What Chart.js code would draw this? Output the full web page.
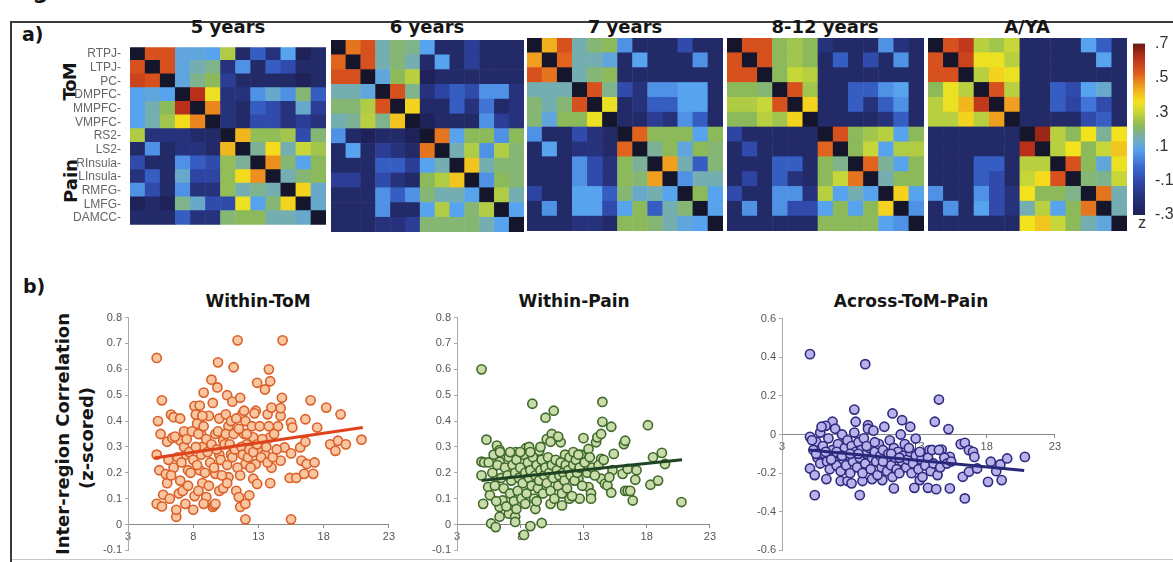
<!DOCTYPE html>
<html>
<head>
<meta charset="utf-8">
<script src="https://cdn.jsdelivr.net/npm/chart.js@4.4.1/dist/chart.umd.min.js"></script>
<style>
  body { margin: 0; width: 1173px; height: 562px; background: #fff; position: relative; overflow: hidden; font-family: 'Liberation Sans', Arial, sans-serif; }
  canvas { position: absolute; }
  .t { position: absolute; white-space: nowrap; color: #151515; font-family: 'DejaVu Sans', sans-serif; font-weight: bold; }
  .hm { position: absolute; font-size: 18px; line-height: 18px; width: 200px; text-align: center; }
  .rot { position: absolute; transform: translate(-50%, -50%) rotate(-90deg); white-space: nowrap; }
  .line { position: absolute; background: #3a3a3a; }
</style>
</head>
<body>
<div class="t" style="left:10px;top:-19px;font-size:22px;line-height:22px">Figure</div>
<div class="line" style="left:10px;top:21px;width:1163px;height:2px"></div>
<div class="line" style="left:10px;top:21px;width:2px;height:541px"></div>
<div class="line" style="left:12px;top:559px;width:1161px;height:1px;background:#c8c8c8"></div>

<div class="t" style="left:22px;top:25px;font-size:19px;line-height:19px">a)</div>
<div class="t" style="left:23px;top:277px;font-size:19px;line-height:19px">b)</div>

<div class="t hm" style="left:128px;top:18px">5 years</div>
<div class="t hm" style="left:327px;top:18px">6 years</div>
<div class="t hm" style="left:525px;top:18px">7 years</div>
<div class="t hm" style="left:725px;top:18px">8-12 years</div>
<div class="t hm" style="left:927px;top:18px">A/YA</div>

<div class="t rot" style="left:69px;top:82px;font-size:18px;letter-spacing:-1px">ToM</div>
<div class="t rot" style="left:70px;top:181px;font-size:18px">Pain</div>

<div class="t" style="left:1138px;top:214px;font-size:16px;font-weight:normal;color:#333;font-family:'Liberation Sans',Arial,sans-serif">z</div>

<div class="t rot" style="left:62px;top:434px;font-size:18px">Inter-region Correlation</div>
<div class="t rot" style="left:86px;top:438px;font-size:18px">(z-scored)</div>

<div class="t" style="left:158px;top:293px;width:200px;text-align:center;font-size:17px;line-height:17px">Within-ToM</div>
<div class="t" style="left:474px;top:293px;width:200px;text-align:center;font-size:17px;line-height:17px">Within-Pain</div>
<div class="t" style="left:811px;top:293px;width:200px;text-align:center;font-size:17px;line-height:17px">Across-ToM-Pain</div>

<canvas id="hm0" width="252" height="194" style="left:74px;top:39px"></canvas>
<canvas id="hm1" width="193" height="192" style="left:331px;top:40px"></canvas>
<canvas id="hm2" width="196" height="193" style="left:527px;top:38px"></canvas>
<canvas id="hm3" width="197" height="193" style="left:727px;top:38px"></canvas>
<canvas id="hm4" width="199" height="193" style="left:928px;top:38px"></canvas>
<canvas id="cbar" width="40" height="200" style="left:1133px;top:32px"></canvas>

<canvas id="sc0" width="310" height="252" style="left:88px;top:308px"></canvas>
<canvas id="sc1" width="302" height="252" style="left:417px;top:308px"></canvas>
<canvas id="sc2" width="322" height="251" style="left:742px;top:309px"></canvas>

<script>
// regions and panels
const regions = ['RTPJ', 'LTPJ', 'PC', 'DMPFC', 'MMPFC', 'VMPFC', 'RS2', 'LS2', 'RInsula', 'LInsula', 'RMFG', 'LMFG', 'DAMCC']
const groupTitles = ['5 years', '6 years', '7 years', '8-12 years', 'A/YA']

// correlation matrices (z), diagonal left empty
const m5 = [
  [null, 0.55, 0.55, 0.10, 0.10, 0.08, 0.27, -0.25, -0.05, -0.20, 0.08, -0.30, -0.25],
  [0.55, null, 0.55, 0.10, 0.15, 0.18, -0.20, 0.05, -0.25, -0.05, -0.10, -0.25, -0.25],
  [0.58, 0.55, null, 0.10, 0.18, 0.22, -0.15, -0.25, -0.25, -0.25, -0.25, -0.30, -0.25],
  [0.08, 0.10, 0.08, null, 0.62, 0.35, -0.20, -0.20, 0.05, 0.12, 0.05, 0.20, -0.05],
  [0.08, 0.15, 0.22, 0.62, null, 0.48, -0.20, -0.25, -0.05, -0.10, -0.20, 0.12, -0.15],
  [0.08, 0.15, 0.25, 0.37, 0.48, null, -0.20, -0.25, -0.10, -0.10, -0.20, -0.15, -0.20],
  [0.27, -0.20, -0.20, -0.20, -0.25, -0.25, null, 0.42, 0.23, 0.23, 0.25, -0.10, 0.20],
  [-0.25, 0.05, -0.25, -0.20, -0.20, -0.25, 0.42, null, 0.17, 0.37, 0.15, 0.30, 0.25],
  [-0.10, -0.25, -0.25, 0.05, -0.05, -0.10, 0.23, 0.17, null, 0.47, 0.20, 0.08, 0.22],
  [-0.20, -0.05, -0.25, 0.12, -0.12, -0.12, 0.23, 0.37, 0.47, null, 0.15, 0.20, 0.22],
  [0.05, -0.10, -0.25, 0.05, -0.20, -0.20, 0.23, 0.15, 0.18, 0.15, null, 0.38, 0.12],
  [-0.30, -0.25, -0.30, 0.18, 0.12, -0.10, -0.10, 0.35, 0.08, 0.20, 0.38, null, 0.12],
  [-0.25, -0.25, -0.25, -0.05, -0.20, -0.20, 0.20, 0.22, 0.22, 0.15, 0.15, 0.12, null],
]
const m6 = [
  [null, 0.50, 0.55, 0.15, 0.20, 0.18, 0.08, -0.25, -0.25, -0.15, -0.25, -0.25, -0.25],
  [0.52, null, 0.55, 0.15, 0.20, 0.15, -0.25, 0.08, -0.25, -0.15, -0.25, -0.25, -0.25],
  [0.55, 0.55, null, 0.10, 0.22, 0.28, -0.30, -0.25, -0.25, -0.25, -0.25, -0.25, -0.25],
  [0.15, 0.15, 0.10, null, 0.55, 0.18, -0.20, -0.12, -0.05, -0.10, 0.05, 0.05, -0.20],
  [0.20, 0.20, 0.27, 0.55, null, 0.38, -0.25, -0.25, -0.05, -0.20, 0.00, -0.25, -0.20],
  [0.15, 0.17, 0.28, 0.18, 0.40, null, -0.30, -0.25, -0.25, -0.25, 0.05, -0.15, -0.20],
  [0.05, -0.25, -0.30, -0.25, -0.25, -0.30, null, 0.50, 0.08, 0.22, 0.22, 0.05, 0.22],
  [-0.25, 0.08, -0.25, -0.15, -0.20, -0.25, 0.50, null, 0.15, 0.27, 0.05, 0.27, 0.20],
  [-0.25, -0.25, -0.25, -0.05, -0.05, -0.15, 0.08, 0.15, null, 0.40, 0.15, 0.20, 0.20],
  [-0.15, -0.15, -0.25, -0.10, -0.20, -0.25, 0.22, 0.27, 0.40, null, 0.05, 0.22, 0.20],
  [-0.25, -0.25, -0.25, 0.05, -0.05, 0.05, 0.20, 0.15, 0.15, 0.08, null, 0.27, 0.15],
  [-0.25, -0.25, -0.25, 0.05, -0.25, -0.25, 0.08, 0.27, 0.08, 0.20, 0.27, null, 0.08],
  [-0.25, -0.25, -0.25, -0.20, -0.20, -0.15, 0.20, 0.20, 0.20, 0.20, 0.15, 0.08, null],
]
const m7 = [
  [null, 0.43, 0.55, 0.15, 0.20, 0.22, 0.05, -0.25, -0.25, -0.25, -0.10, -0.25, -0.25],
  [0.45, null, 0.52, 0.15, 0.15, 0.10, -0.25, 0.08, -0.25, -0.25, -0.25, 0.05, -0.25],
  [0.55, 0.50, null, 0.15, 0.20, 0.22, -0.25, -0.25, -0.25, -0.25, -0.25, -0.25, -0.25],
  [0.15, 0.15, 0.15, null, 0.55, 0.18, -0.10, -0.20, 0.05, 0.05, 0.08, 0.08, -0.25],
  [0.20, 0.15, 0.20, 0.55, null, 0.35, -0.25, -0.20, -0.05, -0.05, 0.08, 0.08, -0.25],
  [0.20, 0.10, 0.22, 0.22, 0.35, null, -0.25, -0.25, -0.15, -0.20, 0.05, -0.05, -0.25],
  [0.05, -0.25, -0.25, -0.10, -0.20, -0.25, null, 0.52, 0.22, 0.22, 0.22, 0.08, 0.22],
  [-0.25, 0.08, -0.25, -0.20, -0.20, -0.25, 0.52, null, 0.17, 0.22, 0.10, 0.22, 0.20],
  [-0.25, -0.25, -0.25, 0.05, -0.10, -0.20, 0.22, 0.17, null, 0.45, 0.15, -0.05, 0.20],
  [-0.25, -0.25, -0.25, 0.05, -0.10, -0.20, 0.22, 0.20, 0.45, null, 0.05, 0.15, 0.15],
  [-0.12, -0.25, -0.25, 0.08, 0.08, -0.05, 0.20, 0.12, 0.15, 0.08, null, 0.22, 0.08],
  [-0.25, 0.05, -0.25, 0.08, 0.08, -0.10, 0.08, 0.22, -0.05, 0.15, 0.20, null, 0.08],
  [-0.25, -0.25, -0.25, -0.20, -0.20, -0.25, 0.22, 0.22, 0.20, 0.15, 0.10, 0.08, null],
]
const m8to12 = [
  [null, 0.55, 0.55, 0.22, 0.25, 0.22, -0.20, -0.25, -0.25, -0.25, 0.05, -0.20, -0.25],
  [0.55, null, 0.55, 0.22, 0.25, 0.22, -0.25, -0.05, -0.25, -0.10, -0.25, 0.05, -0.25],
  [0.55, 0.55, null, 0.22, 0.30, 0.28, -0.25, -0.25, -0.25, -0.25, -0.25, -0.25, -0.25],
  [0.22, 0.22, 0.20, null, 0.55, 0.25, -0.25, -0.25, -0.05, -0.05, 0.05, 0.08, -0.25],
  [0.27, 0.27, 0.30, 0.55, null, 0.38, -0.25, -0.25, -0.05, -0.20, -0.05, 0.05, -0.25],
  [0.22, 0.22, 0.28, 0.25, 0.38, null, -0.25, -0.25, -0.25, -0.25, -0.20, -0.05, -0.25],
  [-0.12, -0.25, -0.25, -0.25, -0.25, -0.25, null, 0.55, 0.22, 0.25, 0.28, 0.08, 0.22],
  [-0.25, -0.10, -0.25, -0.25, -0.25, -0.25, 0.52, null, 0.22, 0.30, 0.08, 0.27, 0.27],
  [-0.25, -0.25, -0.25, -0.05, -0.05, -0.25, 0.22, 0.18, null, 0.52, 0.17, 0.08, 0.22],
  [-0.25, -0.12, -0.25, -0.05, -0.20, -0.25, 0.22, 0.30, 0.50, null, 0.15, 0.22, 0.22],
  [-0.10, -0.25, -0.25, 0.05, 0.05, -0.20, 0.28, 0.08, 0.15, 0.08, null, 0.38, 0.08],
  [-0.25, 0.05, -0.25, 0.05, -0.10, -0.10, 0.08, 0.22, 0.08, 0.22, 0.38, null, 0.05],
  [-0.25, -0.25, -0.25, -0.25, -0.25, -0.25, 0.22, 0.22, 0.22, 0.22, 0.08, 0.05, null],
]
const mAYA = [
  [null, 0.55, 0.60, 0.28, 0.25, 0.30, -0.25, -0.25, -0.25, -0.25, 0.08, -0.05, -0.25],
  [0.55, null, 0.58, 0.35, 0.35, 0.28, -0.25, -0.25, -0.25, -0.25, -0.25, 0.08, -0.25],
  [0.55, 0.55, null, 0.28, 0.38, 0.35, -0.25, -0.25, -0.25, -0.25, -0.25, -0.25, -0.25],
  [0.22, 0.35, 0.28, null, 0.55, 0.28, -0.25, -0.25, -0.05, -0.10, 0.08, 0.12, -0.25],
  [0.28, 0.35, 0.42, 0.60, null, 0.45, -0.25, -0.25, -0.05, -0.12, 0.00, -0.10, -0.25],
  [0.28, 0.28, 0.38, 0.28, 0.45, null, -0.25, -0.25, -0.25, -0.25, -0.10, -0.05, -0.25],
  [-0.25, -0.25, -0.25, -0.25, -0.25, -0.25, null, 0.65, 0.28, 0.22, 0.36, 0.17, 0.36],
  [-0.25, -0.25, -0.25, -0.25, -0.25, -0.25, 0.62, null, 0.28, 0.36, 0.22, 0.30, 0.40],
  [-0.25, -0.25, -0.25, -0.05, -0.05, -0.25, 0.28, 0.28, null, 0.55, 0.22, 0.10, 0.35],
  [-0.25, -0.25, -0.25, -0.05, -0.10, -0.25, 0.30, 0.37, 0.55, null, 0.20, 0.18, 0.30],
  [0.05, -0.25, -0.25, 0.05, -0.10, -0.20, 0.36, 0.22, 0.22, 0.18, null, 0.50, 0.15],
  [-0.25, 0.05, -0.25, 0.08, -0.10, -0.20, 0.15, 0.28, 0.08, 0.22, 0.50, null, 0.15],
  [-0.25, -0.25, -0.25, -0.25, -0.25, -0.25, 0.36, 0.40, 0.30, 0.22, 0.15, 0.10, null],
]
const matrices = [m5, m6, m7, m8to12, mAYA]
const cbTicks = [-0.3, -0.1, 0.1, 0.3, 0.5, 0.7]

// scatter data: [age, z]
const tomPoints = [
  [5.2, 0.644], [5.6, 0.48], [5.3, 0.40], [5.5, 0.35], [5.2, 0.27], [5.4, 0.21], [5.2, 0.08], [5.6, 0.07],
  [5.7, 0.115], [6.0, 0.16], [5.9, 0.195], [6.1, 0.25], [6.0, 0.32], [6.3, 0.425], [6.5, 0.415], [6.4, 0.335],
  [6.2, 0.10], [6.7, 0.03], [6.7, 0.057], [6.9, 0.12], [7.0, 0.17], [7.0, 0.325], [7.3, 0.36], [7.4, 0.27],
  [7.6, 0.21], [7.4, 0.08], [8.0, 0.057], [8.1, 0.458], [8.2, 0.425], [8.5, 0.46], [8.3, 0.39], [8.6, 0.35],
  [8.8, 0.51], [8.7, 0.30], [8.5, 0.21], [8.7, 0.16], [9.0, 0.106], [8.8, 0.08], [9.5, 0.068], [9.6, 0.074],
  [9.4, 0.56], [9.9, 0.627], [9.85, 0.53], [9.5, 0.47], [10.0, 0.41], [9.7, 0.35], [10.0, 0.27], [9.7, 0.196],
  [10.0, 0.13], [10.3, 0.325], [10.6, 0.50], [10.5, 0.426], [10.7, 0.38], [10.9, 0.27], [10.7, 0.183],
  [11.0, 0.475], [11.1, 0.608], [11.4, 0.712], [11.3, 0.13], [11.5, 0.106], [11.6, 0.068], [12.0, 0.02],
  [12.0, 0.08], [11.6, 0.49], [11.75, 0.426], [12.0, 0.40], [11.9, 0.35], [12.1, 0.31], [12.0, 0.234],
  [12.3, 0.113], [12.8, 0.44], [12.9, 0.548], [12.6, 0.337], [13.0, 0.285], [12.8, 0.234], [12.6, 0.177],
  [12.9, 0.157], [13.5, 0.522], [13.8, 0.60], [13.9, 0.554], [13.7, 0.426], [14.0, 0.452], [13.9, 0.337],
  [13.5, 0.272], [14.0, 0.22], [13.9, 0.16], [14.5, 0.38], [14.7, 0.42], [14.8, 0.49], [14.85, 0.712],
  [14.7, 0.45], [14.7, 0.247], [15.0, 0.298], [15.5, 0.394], [15.5, 0.275], [15.4, 0.18], [15.5, 0.02],
  [15.9, 0.18], [15.6, 0.375], [16.2, 0.298], [16.3, 0.247], [16.5, 0.196], [16.6, 0.407], [16.6, 0.32],
  [16.7, 0.234], [17.0, 0.48], [17.2, 0.196], [17.3, 0.24], [17.5, 0.375], [18.2, 0.452], [18.5, 0.31],
  [18.9, 0.285], [19.1, 0.324], [19.3, 0.426], [19.7, 0.31], [20.9, 0.328],
  [6.5, 0.22], [6.8, 0.26], [7.1, 0.24], [7.3, 0.30], [7.5, 0.33], [7.7, 0.28], [7.8, 0.20], [7.9, 0.36],
  [8.0, 0.25], [8.2, 0.30], [8.3, 0.23], [8.4, 0.35], [8.6, 0.27], [8.8, 0.38], [8.9, 0.20], [9.0, 0.33],
  [9.1, 0.28], [9.2, 0.42], [9.3, 0.24], [9.4, 0.31], [9.6, 0.22], [9.8, 0.29], [9.9, 0.36], [10.1, 0.25],
  [10.2, 0.19], [10.4, 0.31], [10.5, 0.35], [10.6, 0.23], [10.8, 0.31], [10.9, 0.40], [11.0, 0.26],
  [11.1, 0.35], [11.2, 0.29], [11.3, 0.41], [11.4, 0.22], [11.5, 0.37], [11.7, 0.30], [11.8, 0.27],
  [11.9, 0.44], [12.1, 0.35], [12.2, 0.26], [12.3, 0.29], [12.5, 0.38], [12.6, 0.28], [12.7, 0.43],
  [12.9, 0.31], [13.1, 0.38], [13.2, 0.26], [13.3, 0.33], [13.6, 0.30], [13.7, 0.24], [13.8, 0.38],
  [14.1, 0.26], [14.2, 0.35], [14.4, 0.29], [7.2, 0.13], [7.6, 0.15], [8.1, 0.11], [8.4, 0.13], [9.2, 0.15],
  [9.7, 0.08], [6.3, 0.19], [6.6, 0.34], [7.0, 0.41], [8.7, 0.42], [10.3, 0.14], [10.6, 0.16], [11.6, 0.19],
  [12.4, 0.22],
]
const painPoints = [
  [4.94, 0.60], [5.33, 0.328], [4.94, 0.243], [5.15, 0.24], [4.94, 0.19], [5.07, 0.08], [5.46, 0.145],
  [5.6, 0.113], [5.7, 0.004], [6.06, -0.01], [6.16, 0.305], [6.37, 0.288], [6.37, 0.243], [6.37, 0.068],
  [6.37, 0.03], [6.6, 0.093], [7.1, 0.042], [7.6, 0.03], [7.6, 0.01], [7.66, 0.28], [8.2, 0.21], [8.3, -0.04],
  [8.8, -0.006], [8.45, 0.295], [8.7, 0.30], [8.96, 0.467], [9.2, 0.06], [9.5, 0.285], [9.7, 0.006],
  [10.0, 0.413], [10.1, 0.33], [10.4, 0.08], [10.5, 0.35], [10.65, 0.44], [11.2, 0.318], [11.3, 0.074],
  [11.55, 0.27], [11.9, 0.10], [12.6, 0.177], [12.7, 0.10], [13.0, 0.334], [13.4, 0.292], [13.4, 0.145],
  [13.6, 0.12], [13.6, 0.10], [14.0, 0.318], [14.1, 0.337], [14.4, 0.35], [14.5, 0.474], [14.5, 0.397],
  [14.4, 0.254], [14.4, 0.177], [14.7, 0.157], [14.9, 0.151], [15.2, 0.378], [15.2, 0.123], [15.4, 0.273],
  [15.3, 0.21], [15.05, 0.183], [16.1, 0.196], [16.2, 0.311], [16.3, 0.324], [16.3, 0.13], [16.5, 0.13],
  [16.7, 0.13], [16.5, 0.215], [16.9, 0.093], [17.1, 0.173], [17.2, 0.21], [18.1, 0.384], [18.3, 0.154],
  [18.5, 0.26], [18.9, 0.17], [19.2, 0.277], [19.45, 0.234], [20.75, 0.087],
  [5.8, 0.20], [6.0, 0.15], [6.2, 0.23], [6.5, 0.18], [6.7, 0.14], [6.8, 0.22], [7.0, 0.19], [7.1, 0.26],
  [7.2, 0.12], [7.3, 0.17], [7.4, 0.23], [7.5, 0.09], [7.6, 0.20], [7.7, 0.25], [7.8, 0.13], [7.9, 0.18],
  [8.0, 0.22], [8.1, 0.10], [8.2, 0.16], [8.3, 0.27], [8.4, 0.20], [8.5, 0.12], [8.6, 0.24], [8.7, 0.18],
  [8.8, 0.21], [8.9, 0.15], [9.0, 0.26], [9.1, 0.10], [9.2, 0.19], [9.3, 0.23], [9.4, 0.14], [9.5, 0.17],
  [9.6, 0.21], [9.7, 0.25], [9.8, 0.12], [9.9, 0.19], [10.0, 0.22], [10.1, 0.16], [10.2, 0.26], [10.3, 0.20],
  [10.4, 0.13], [10.5, 0.23], [10.6, 0.18], [10.7, 0.10], [10.8, 0.25], [10.9, 0.21], [11.0, 0.15],
  [11.1, 0.19], [11.2, 0.24], [11.3, 0.12], [11.4, 0.20], [11.5, 0.17], [11.6, 0.23], [11.7, 0.14],
  [11.8, 0.21], [11.9, 0.26], [12.0, 0.19], [12.1, 0.11], [12.2, 0.23], [12.3, 0.17], [12.4, 0.25],
  [12.5, 0.20], [12.7, 0.22], [12.8, 0.27], [12.9, 0.15], [13.1, 0.24], [13.3, 0.20], [13.5, 0.26],
  [13.7, 0.22], [13.9, 0.19], [14.2, 0.23], [14.6, 0.25], [6.1, 0.09], [6.9, 0.07], [7.7, 0.06], [8.4, 0.08],
  [9.3, 0.09], [5.5, 0.24], [5.9, 0.27], [6.4, 0.28], [7.2, 0.28], [8.0, 0.28], [8.8, 0.28], [9.6, 0.30],
  [10.4, 0.32], [11.0, 0.34], [12.2, 0.28], [12.6, 0.27],
]
const acrossPoints = [
  [5.05, 0.416], [9.1, 0.364], [14.5, 0.181], [8.3, 0.129], [11.1, 0.109], [14.2, 0.066], [15.2, 0.028],
  [11.8, 0.074], [12.4, 0.04], [6.7, 0.066], [6.2, 0.045], [5.8, 0.01], [8.4, 0.066], [9.3, 0.048],
  [5.05, -0.012], [5.5, -0.038], [5.05, -0.176], [5.4, -0.21], [5.4, -0.314], [6.25, -0.231], [7.3, -0.241],
  [7.8, -0.241], [8.1, -0.253], [8.7, -0.314], [8.9, -0.241], [9.6, -0.231], [10.35, -0.236], [11.2, -0.279],
  [12.7, -0.276], [13.1, -0.236], [13.7, -0.276], [14.3, -0.283], [15.3, -0.279], [16.4, -0.331],
  [16.25, -0.219], [16.7, -0.193], [16.1, -0.05], [16.4, -0.043], [16.7, -0.081], [17.0, -0.09],
  [17.1, -0.116], [17.3, -0.176], [18.1, -0.245], [18.3, -0.141], [18.7, -0.19], [19.0, -0.155],
  [19.1, -0.236], [19.5, -0.124], [20.8, -0.116], [14.7, -0.078], [15.3, -0.116], [13.8, -0.081], [12.8, -0.021],
  [5.3, -0.08], [5.6, -0.12], [5.8, -0.15], [6.0, -0.06], [6.1, -0.10], [6.3, -0.14], [6.4, -0.02], [6.5, -0.18],
  [6.7, -0.08], [6.8, -0.12], [6.9, 0.03], [7.0, -0.16], [7.1, -0.05], [7.2, -0.10], [7.3, -0.19], [7.4, 0.00],
  [7.5, -0.13], [7.6, -0.07], [7.7, -0.16], [7.8, -0.03], [7.9, -0.11], [8.0, -0.20], [8.1, -0.06], [8.2, -0.14],
  [8.3, 0.01], [8.4, -0.09], [8.5, -0.17], [8.6, -0.04], [8.7, -0.12], [8.8, -0.08], [8.9, -0.20], [9.0, -0.02],
  [9.1, -0.15], [9.2, -0.10], [9.3, 0.03], [9.4, -0.07], [9.5, -0.18], [9.6, -0.12], [9.7, 0.02], [9.8, -0.09],
  [9.9, -0.14], [10.0, -0.21], [10.1, -0.05], [10.2, -0.11], [10.3, -0.17], [10.4, -0.08], [10.5, 0.04],
  [10.6, -0.13], [10.7, -0.19], [10.8, -0.10], [10.9, -0.03], [11.0, -0.16], [11.1, -0.22], [11.2, -0.07],
  [11.3, -0.12], [11.4, -0.18], [11.5, -0.09], [11.6, -0.20], [11.7, 0.00], [11.8, -0.14], [11.9, -0.11],
  [12.0, -0.05], [12.1, -0.17], [12.2, -0.13], [12.4, -0.09], [12.5, -0.20], [12.6, -0.15], [12.8, -0.11],
  [13.0, -0.18], [13.2, -0.13], [13.3, -0.22], [13.5, -0.16], [13.7, -0.12], [13.9, -0.19], [14.1, -0.15],
  [14.4, -0.21], [14.6, -0.17], [14.9, -0.12], [15.1, -0.15], [15.4, -0.14], [5.2, -0.03], [5.5, -0.10],
  [5.9, 0.04], [6.2, -0.09], [6.6, -0.13], [7.0, -0.09], [7.4, -0.11], [8.0, -0.10], [8.6, -0.10], [9.2, -0.06],
  [9.8, -0.04], [10.4, -0.14], [11.0, -0.10], [11.6, -0.12], [12.3, -0.07], [13.1, -0.09], [14.0, -0.08],
  [14.5, -0.08],
]
// linear fits (end points)
const tomFit = [[5.0, 0.257], [21.0, 0.375]]
const painFit = [[4.94, 0.17], [20.8, 0.25]]
const acrossFit = [[5.0, -0.08], [20.75, -0.186]]
const tomTicks = [-0.1, 0, 0.1, 0.2, 0.3, 0.4, 0.5, 0.6, 0.7, 0.8]
const acrossTicks = [-0.6, -0.4, -0.2, 0, 0.2, 0.4, 0.6]

// jet-like colour map, -0.3 .. 0.7
const colorStops = [
  [-0.30, '#1e2258'], [-0.22, '#252e72'], [-0.12, '#2e44a2'], [-0.02, '#3a68d0'], [0.08, '#57a3ee'],
  [0.15, '#75aeb0'], [0.22, '#8cb95a'], [0.29, '#bfd43c'], [0.36, '#f4e21e'], [0.45, '#f0a01e'],
  [0.53, '#de5a1e'], [0.62, '#b8301a'], [0.70, '#6a1810'],
]
const hex = (h) => [1, 3, 5].map((i) => parseInt(h.substr(i, 2), 16))
const jet = function (v) {
  if (v === null || v === undefined) return '#15162c'
  if (v <= colorStops[0][0]) return colorStops[0][1]
  for (let i = 1; i < colorStops.length; i++) {
    if (v <= colorStops[i][0]) {
      const t = (v - colorStops[i - 1][0]) / (colorStops[i][0] - colorStops[i - 1][0])
      const a = hex(colorStops[i - 1][1])
      const b = hex(colorStops[i][1])
      return 'rgb(' + a.map((c, k) => Math.round(c + (b[k] - c) * t)).join(',') + ')'
    }
  }
  return colorStops[colorStops.length - 1][1]
}

const labelFont = { family: "'Liberation Sans', Arial, sans-serif", size: 11 }

// HEATMAPS
matrices.forEach((matrix, k) => {
  const cells = []
  matrix.forEach((row, r) => row.forEach((v, c) => cells.push({ x: c, y: r, v: v })))
  new Chart(document.getElementById('hm' + k), {
    type: 'scatter',
    data: {
      datasets: [
        {
          label: groupTitles[k],
          data: cells,
          pointStyle: 'rect',
          borderWidth: 0,
          pointRadius: (ctx) => {
            const a = ctx.chart.chartArea
            return a ? Math.max(a.width, a.height) / 13 / Math.SQRT2 + 0.35 : 0
          },
          backgroundColor: (ctx) => jet(ctx.raw ? ctx.raw.v : null),
        },
      ],
    },
    options: {
      responsive: false,
      animation: false,
      events: [],
      layout: { padding: 0 },
      plugins: { legend: { display: false }, tooltip: { enabled: false } },
      scales: {
        x: { type: 'linear', min: -0.5, max: 12.5, display: false },
        y: {
          type: 'linear', min: -0.5, max: 12.5, reverse: true, display: k === 0,
          afterBuildTicks: (s) => { s.ticks = regions.map((_, i) => ({ value: i })) },
          afterFit: (s) => { s.width = k === 0 ? 56 : 0 },
          grid: { display: false },
          border: { display: false },
          ticks: {
            autoSkip: false, padding: 1, color: '#666',
            font: { family: "'Liberation Sans', Arial, sans-serif", size: 12 },
            callback: (v) => regions[v] + '-',
          },
        },
      },
    },
  })
})

// COLOUR BAR
new Chart(document.getElementById('cbar'), {
  type: 'scatter',
  data: { datasets: [] },
  options: {
    responsive: false,
    animation: false,
    events: [],
    layout: { padding: { top: 8, bottom: 17 } },
    plugins: { legend: { display: false }, tooltip: { enabled: false } },
    scales: {
      x: { display: false, min: 0, max: 1 },
      y: {
        position: 'right', min: -0.3, max: 0.7,
        afterBuildTicks: (s) => { s.ticks = cbTicks.map((v) => ({ value: v })) },
        afterFit: (s) => { s.width = 28 },
        grid: { display: false },
        border: { display: false },
        ticks: {
          padding: 2, color: '#333',
          font: { family: "'Liberation Sans', Arial, sans-serif", size: 16 },
          callback: (v) => (v < 0 ? '-' : '') + '.' + Math.round(Math.abs(v) * 10),
        },
      },
    },
  },
  plugins: [
    {
      id: 'gradient',
      beforeDatasetsDraw(chart) {
        const a = chart.chartArea
        const c = chart.ctx
        const g = c.createLinearGradient(0, a.bottom, 0, a.top)
        colorStops.forEach((s) => g.addColorStop((s[0] + 0.3) / 1.0, s[1]))
        c.fillStyle = g
        c.fillRect(a.left, a.top, a.width, a.height)
      },
    },
  ],
})

// SCATTER PLOTS
const scatter = function (id, points, fit, ticks, fill, stroke, lineColor) {
  new Chart(document.getElementById(id), {
    type: 'scatter',
    data: {
      datasets: [
        {
          type: 'line',
          data: fit.map((p) => ({ x: p[0], y: p[1] })),
          borderColor: lineColor,
          borderWidth: 3,
          pointRadius: 0,
          order: 0,
        },
        {
          data: points.map((p) => ({ x: p[0], y: p[1] })),
          pointRadius: 4.6,
          borderWidth: 1.6,
          backgroundColor: fill,
          borderColor: stroke,
          order: 1,
        },
      ],
    },
    options: {
      responsive: false,
      animation: false,
      events: [],
      layout: { padding: { top: 8, right: 6, bottom: 9, left: 0 } },
      plugins: { legend: { display: false }, tooltip: { enabled: false } },
      scales: {
        x: {
          type: 'linear', position: { y: 0 }, min: 3, max: 23,
          afterFit: (s) => { s.height = 0 },
          ticks: { stepSize: 5, color: '#555', font: labelFont, padding: 3 },
          grid: { drawOnChartArea: false, tickLength: 3, color: '#888' },
          border: { color: '#888' },
        },
        y: {
          type: 'linear', min: ticks[0], max: ticks[ticks.length - 1],
          afterBuildTicks: (s) => { s.ticks = ticks.map((v) => ({ value: v })) },
          afterFit: (s) => { s.width = 40 },
          ticks: {
            color: '#555', font: labelFont, padding: 3,
            callback: (v) => (Math.abs(v) < 1e-9 ? '0' : v.toFixed(1)),
          },
          grid: { drawOnChartArea: false, tickLength: 3, color: '#aaa' },
          border: { color: '#aaa' },
        },
      },
    },
  })
}

scatter('sc0', tomPoints, tomFit, tomTicks, '#f8c6a0', '#dc5f28', '#e0431c')
scatter('sc1', painPoints, painFit, tomTicks, '#c9dba8', '#3f6a2c', '#1f4424')
scatter('sc2', acrossPoints, acrossFit, acrossTicks, '#b9b2ea', '#2f2c80', '#29287a')
</script>
</body>
</html>
